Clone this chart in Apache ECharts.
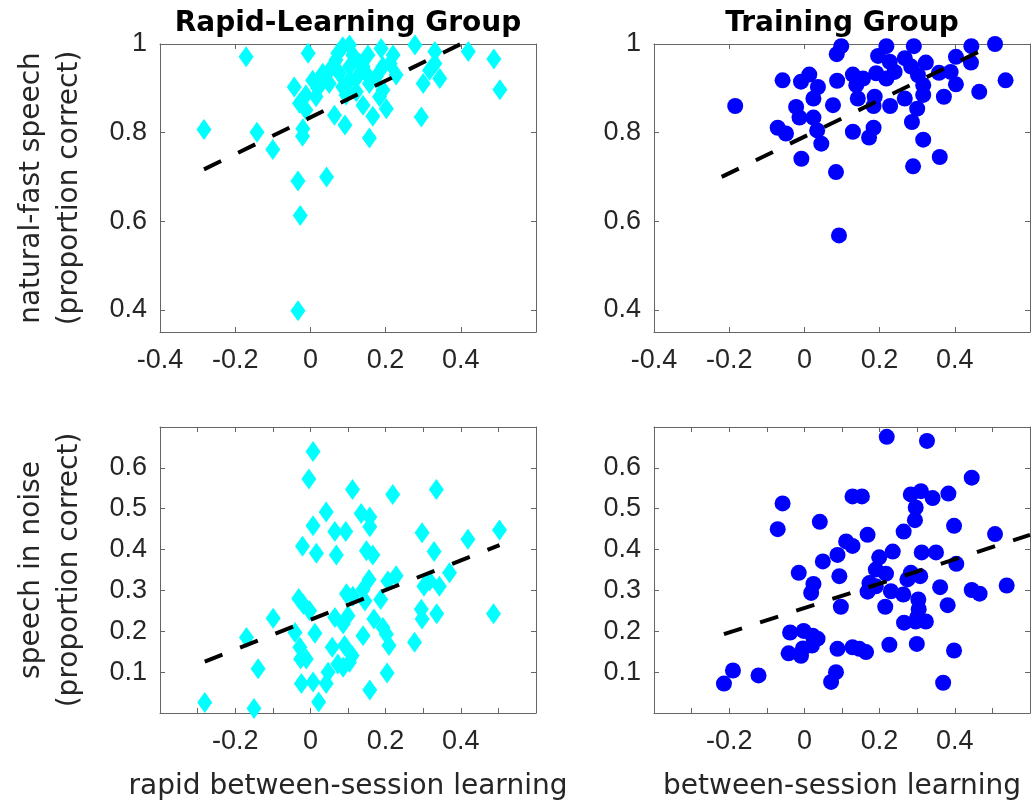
<!DOCTYPE html>
<html><head><meta charset="utf-8">
<script src="https://cdn.jsdelivr.net/npm/echarts@6/dist/echarts.min.js"></script>
<style>html,body{margin:0;padding:0;background:#fff}#c{width:1032px;height:804px}</style>
</head><body><div id="c"></div><script>
// ---- data ----
const panelTitles = ['Rapid-Learning Group', 'Training Group'];
const yNames = ['natural-fast speech\n(proportion correct)', 'speech in noise\n(proportion correct)'];
const xNames = ['rapid between-session learning', 'between-session learning'];

const topXTicks = [-0.4, -0.2, 0, 0.2, 0.4];
const topXLabels = [-0.4, -0.2, 0, 0.2, 0.4];
const topYTicks = [0.4, 0.6, 0.8, 1];
const topYLabels = [0.4, 0.6, 0.8, 1];
const botXTicks = [-0.3, -0.2, -0.1, 0, 0.1, 0.2, 0.3, 0.4, 0.5];
const botXLabels = [-0.2, 0, 0.2, 0.4];
const botYTicks = [0.1, 0.2, 0.3, 0.4, 0.5, 0.6];
const botYLabels = [0.1, 0.2, 0.3, 0.4, 0.5, 0.6];

const rapidFast = [
[-0.283,0.807],[-0.171,0.971],[-0.142,0.801],[-0.100,0.762],[-0.033,0.691],[-0.027,0.613],[-0.033,0.398],[0.043,0.700],
[-0.021,0.792],[-0.020,0.809],[-0.043,0.903],[-0.029,0.866],[-0.012,0.851],[-0.006,0.979],[0.006,0.918],[0.015,0.881],
[0.064,0.839],[0.092,0.817],[0.157,0.788],[0.166,0.837],[0.140,0.862],[0.202,0.854],[0.295,0.835],[0.300,0.911],
[0.344,0.922],[0.331,0.956],[0.331,0.983],[0.278,0.998],[0.420,0.983],[0.488,0.966],[0.504,0.897],[0.228,0.930],
[0.220,0.975],[0.188,0.990],[0.153,0.975],[0.104,0.998],[0.086,0.994],[0.068,0.964],[0.055,0.945],[0.033,0.934],
[0.104,0.949],[0.122,0.922],[0.148,0.934],[0.157,0.911],[0.086,0.903],[0.104,0.918],[0.193,0.896],[0.193,0.949],
[0.077,0.934],[0.050,0.911],[0.024,0.918],[0.131,0.956],[0.317,0.941],[0.175,0.926],[0.095,0.885],
[0.184,0.881],[0.122,0.892],[0.020,0.900],[-0.012,0.885],[0.140,0.949],[0.212,0.956],[0.073,0.979],[0.113,0.975]
];
const trainFast = [
[-0.184,0.860],[-0.058,0.918],[-0.009,0.915],[0.013,0.931],[0.036,0.903],[0.024,0.877],[-0.022,0.858],[-0.013,0.834],
[0.024,0.834],[-0.071,0.811],[-0.049,0.798],[0.034,0.805],[0.045,0.775],[-0.008,0.741],[0.084,0.711],[0.092,0.568],
[0.076,0.862],[0.087,0.917],[0.086,0.977],[0.098,0.995],[0.129,0.802],[0.172,0.789],[0.184,0.811],[0.129,0.931],
[0.138,0.907],[0.156,0.922],[0.142,0.877],[0.187,0.881],[0.184,0.860],[0.191,0.934],[0.218,0.922],[0.196,0.973],
[0.218,0.995],[0.227,0.960],[0.240,0.937],[0.267,0.968],[0.291,0.995],[0.284,0.949],[0.302,0.930],[0.323,0.958],
[0.316,0.907],[0.316,0.885],[0.267,0.877],[0.228,0.860],[0.300,0.854],[0.286,0.824],[0.316,0.784],[0.289,0.724],
[0.360,0.745],[0.371,0.881],[0.358,0.935],[0.389,0.937],[0.403,0.909],[0.403,0.971],[0.444,0.995],[0.443,0.958],
[0.465,0.892],[0.507,1.000],[0.535,0.918]
];
const rapidNoise = [
[-0.281,0.026],[-0.150,0.011],[-0.170,0.185],[-0.139,0.108],[-0.099,0.232],[-0.031,0.280],[-0.019,0.266],[-0.002,0.250],
[-0.041,0.197],[-0.028,0.161],[-0.026,0.132],[-0.011,0.132],[-0.024,0.072],[0.007,0.076],[0.022,0.027],[0.042,0.072],
[0.047,0.100],[0.012,0.195],[0.007,0.640],[-0.004,0.573],[0.007,0.458],[-0.021,0.408],[0.016,0.391],[0.042,0.492],
[0.065,0.444],[0.094,0.444],[0.069,0.387],[0.112,0.547],[0.135,0.488],[0.158,0.480],[0.158,0.456],[0.149,0.397],
[0.166,0.387],[0.219,0.535],[0.096,0.292],[0.113,0.286],[0.140,0.302],[0.156,0.327],[0.145,0.274],[0.065,0.234],
[0.087,0.218],[0.100,0.238],[0.058,0.161],[0.091,0.165],[0.073,0.120],[0.087,0.112],[0.104,0.124],[0.111,0.141],
[0.140,0.189],[0.158,0.056],[0.169,0.230],[0.187,0.278],[0.193,0.209],[0.202,0.193],[0.209,0.165],[0.204,0.098],
[0.206,0.323],[0.228,0.336],[0.277,0.173],[0.297,0.230],[0.295,0.254],[0.302,0.310],[0.317,0.323],[0.343,0.310],
[0.336,0.243],[0.297,0.441],[0.329,0.395],[0.335,0.547],[0.370,0.343],[0.419,0.425],[0.503,0.448],[0.487,0.243]
];
const trainNoise = [
[-0.214,0.072],[-0.190,0.104],[-0.122,0.092],[-0.058,0.513],[-0.071,0.450],[-0.015,0.343],[0.024,0.316],[0.018,0.294],
[-0.038,0.197],[-0.002,0.201],[0.022,0.189],[0.035,0.182],[-0.004,0.158],[-0.042,0.146],[-0.009,0.140],[0.020,0.165],
[0.041,0.468],[0.049,0.371],[0.088,0.387],[0.093,0.335],[0.097,0.260],[0.088,0.157],[0.084,0.100],[0.071,0.076],
[0.111,0.420],[0.128,0.409],[0.128,0.530],[0.153,0.530],[0.128,0.161],[0.146,0.157],[0.164,0.149],[0.168,0.436],
[0.199,0.381],[0.190,0.351],[0.217,0.341],[0.173,0.318],[0.168,0.297],[0.190,0.310],[0.219,0.676],[0.235,0.395],
[0.215,0.260],[0.226,0.167],[0.230,0.298],[0.263,0.290],[0.264,0.444],[0.294,0.472],[0.296,0.503],[0.283,0.535],
[0.310,0.543],[0.326,0.666],[0.341,0.526],[0.383,0.537],[0.312,0.393],[0.350,0.393],[0.283,0.343],[0.274,0.327],
[0.308,0.335],[0.303,0.278],[0.304,0.254],[0.300,0.234],[0.265,0.221],[0.323,0.224],[0.296,0.224],[0.299,0.169],
[0.361,0.308],[0.381,0.264],[0.398,0.458],[0.404,0.365],[0.398,0.153],[0.369,0.074],[0.445,0.576],[0.445,0.301],
[0.466,0.292],[0.507,0.438],[0.538,0.312]
];
const fitRapidFast = [[-0.283, 0.717], [0.504, 1.043]];
const fitTrainFast = [[-0.220, 0.700], [0.465, 0.983]];
const fitRapidNoise = [[-0.281, 0.126], [0.503, 0.411]];
const fitTrainNoise = [[-0.214, 0.193], [0.600, 0.436]];

// ---- chart ----
const AX = '#666';
const LBL = '#262626';
const TICKFONT = '"Liberation Sans", Arial, sans-serif';
const NAMEFONT = '"DejaVu Sans", sans-serif';
const fmt = v => String(Math.round(v * 100) / 100);

const grids = [
  {left: 160, top: 44, width: 376, height: 288},
  {left: 654, top: 44, width: 376, height: 288},
  {left: 160, top: 427, width: 376, height: 286},
  {left: 654, top: 427, width: 376, height: 286}
];
const specs = [
  {x: [-0.4, 0.6], y: [0.35, 1], xt: topXTicks, xl: topXLabels, yt: topYTicks, yl: topYLabels, data: rapidFast, fit: fitRapidFast, sym: 'diamond', size: [15, 21], color: '#00ffff'},
  {x: [-0.4, 0.6], y: [0.35, 1], xt: topXTicks, xl: topXLabels, yt: topYTicks, yl: topYLabels, data: trainFast, fit: fitTrainFast, sym: 'circle', size: 16, color: '#0000ff'},
  {x: [-0.4, 0.6], y: [0, 0.7], xt: botXTicks, xl: botXLabels, yt: botYTicks, yl: botYLabels, data: rapidNoise, fit: fitRapidNoise, sym: 'diamond', size: [15, 21], color: '#00ffff'},
  {x: [-0.4, 0.6], y: [0, 0.7], xt: botXTicks, xl: botXLabels, yt: botYTicks, yl: botYLabels, data: trainNoise, fit: fitTrainNoise, sym: 'circle', size: 16, color: '#0000ff'}
];

const xAxis = [], yAxis = [], series = [];
function axisBase(gi, pos, range, ticks, labels, showLabel, margin) {
  return {
    type: 'value', gridIndex: gi, position: pos, min: range[0], max: range[1],
    splitLine: {show: false},
    axisLine: {show: true, onZero: false, lineStyle: {color: AX, width: 1}},
    axisTick: {show: true, inside: true, length: 5, lineStyle: {color: AX, width: 1}, customValues: ticks},
    axisLabel: {show: showLabel, customValues: labels, formatter: fmt, fontSize: 27, fontFamily: TICKFONT, color: LBL, margin: margin}
  };
}
specs.forEach((s, i) => {
  xAxis.push(axisBase(i, 'bottom', s.x, s.xt, s.xl, true, 15));
  xAxis.push(axisBase(i, 'top', s.x, s.xt, s.xl, false, 8));
  yAxis.push(axisBase(i, 'left', s.y, s.yt, s.yl, true, 13));
  yAxis.push(axisBase(i, 'right', s.y, s.yt, s.yl, false, 8));
  series.push({
    type: 'scatter', xAxisIndex: 2 * i, yAxisIndex: 2 * i, data: s.data,
    symbol: s.sym, symbolSize: s.size, clip: false,
    itemStyle: {color: s.color, opacity: 1}, z: 2, silent: true
  });
  series.push({
    type: 'line', xAxisIndex: 2 * i, yAxisIndex: 2 * i, data: s.fit,
    symbol: 'none', clip: true, z: 3, silent: true,
    lineStyle: {color: '#000', width: 4, type: [19, 19], cap: 'butt'}
  });
});

const graphic = [
  {type: 'text', x: 348, y: 24, style: {text: panelTitles[0], font: 'bold 28px ' + NAMEFONT, fill: '#000', align: 'center', verticalAlign: 'middle'}},
  {type: 'text', x: 842, y: 24, style: {text: panelTitles[1], font: 'bold 28px ' + NAMEFONT, fill: '#000', align: 'center', verticalAlign: 'middle'}},
  {type: 'text', x: 51, y: 188, rotation: Math.PI / 2, style: {text: yNames[0], font: '28px ' + NAMEFONT, fill: LBL, align: 'center', verticalAlign: 'middle', lineHeight: 38}},
  {type: 'text', x: 51, y: 570, rotation: Math.PI / 2, style: {text: yNames[1], font: '28px ' + NAMEFONT, fill: LBL, align: 'center', verticalAlign: 'middle', lineHeight: 38}},
  {type: 'text', x: 348, y: 787, style: {text: xNames[0], font: '28px ' + NAMEFONT, fill: LBL, align: 'center', verticalAlign: 'middle'}},
  {type: 'text', x: 842, y: 787, style: {text: xNames[1], font: '28px ' + NAMEFONT, fill: LBL, align: 'center', verticalAlign: 'middle'}}
];

const chart = echarts.init(document.getElementById('c'), null, {renderer: 'canvas'});
chart.setOption({
  animation: false,
  backgroundColor: '#fff',
  grid: grids,
  xAxis: xAxis,
  yAxis: yAxis,
  series: series,
  graphic: graphic
});
</script></body></html>
